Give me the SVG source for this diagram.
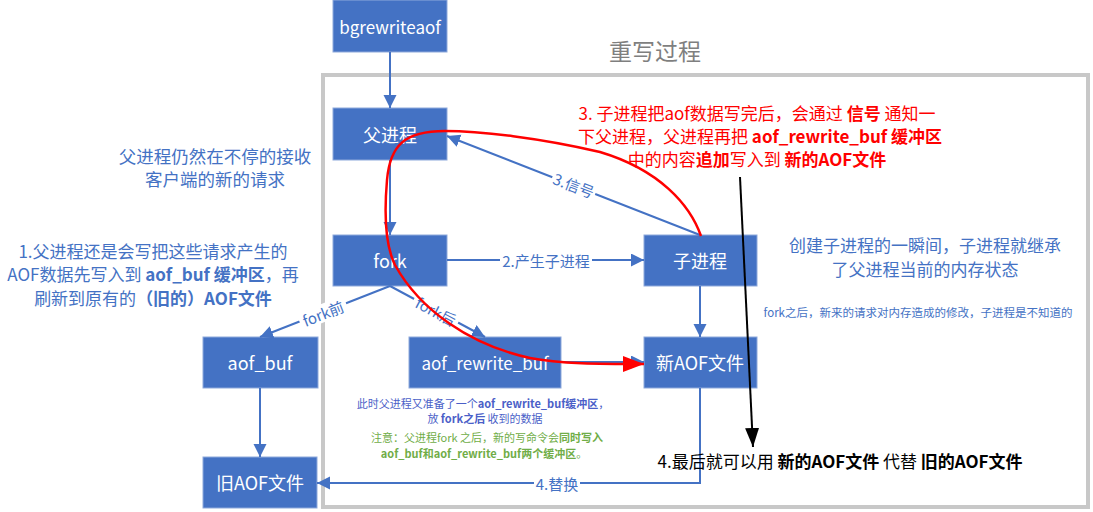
<svg xmlns="http://www.w3.org/2000/svg" width="1093" height="512" viewBox="0 0 1093 512">
<defs>
<style>
text{font-family:"Noto Sans CJK SC","Liberation Sans",sans-serif;dominant-baseline:central;text-anchor:middle}
.box{fill:#4472C4;stroke:#8EA9DB;stroke-width:1}
.bl{fill:#fff;font-size:18px}
.ln{fill:none;stroke:#4472C4;stroke-width:2}
.lab{fill:#4472C4;font-size:15px}
.bg{fill:#fff}
.b{font-weight:bold}
</style>
<marker id="ab" markerUnits="userSpaceOnUse" markerWidth="14" markerHeight="14" refX="13" refY="6.5" orient="auto"><path d="M0,0 L13,6.5 L0,13 z" fill="#4472C4"/></marker>
<marker id="ar" markerUnits="userSpaceOnUse" markerWidth="22" markerHeight="18" refX="21" refY="8" orient="auto"><path d="M0,0 L21,8 L0,16 z" fill="#FF0000"/></marker>
<marker id="ak" markerUnits="userSpaceOnUse" markerWidth="20" markerHeight="14" refX="19" refY="7" orient="auto"><path d="M0,0 L19,7 L0,14 z" fill="#000"/></marker>
</defs>
<rect width="1093" height="512" fill="#fff"/>
<rect x="323" y="75" width="765" height="432" fill="none" stroke="#C8C8C8" stroke-width="4"/>
<text x="655" y="50" font-size="23" fill="#7F7F7F">重写过程</text>

<g id="n-bgrewriteaof"><rect class="box" x="333" y="0" width="114" height="52"/><text class="bl" x="390" y="26" style="font-size:17px">bgrewriteaof</text></g>
<g id="n-parent"><rect class="box" x="333" y="108" width="114" height="52"/><text class="bl" x="390" y="134">父进程</text></g>
<g id="n-fork"><rect class="box" x="333" y="235" width="114" height="51"/><text class="bl" x="390" y="260">fork</text></g>
<g id="n-child"><rect class="box" x="644" y="235" width="113" height="51"/><text class="bl" x="700" y="260">子进程</text></g>
<g id="n-aofbuf"><rect class="box" x="203" y="337" width="115" height="51"/><text class="bl" x="260" y="362">aof_buf</text></g>
<g id="n-rewritebuf"><rect class="box" x="409" y="337" width="152" height="51"/><text class="bl" x="485" y="362" style="font-size:17px">aof_rewrite_buf</text></g>
<g id="n-newaof"><rect class="box" x="644" y="337" width="113" height="51"/><text class="bl" x="700" y="362">新AOF文件</text></g>
<g id="n-oldaof"><rect class="box" x="203" y="457" width="114" height="51"/><text class="bl" x="260" y="482">旧AOF文件</text></g>

<g id="connectors">
<path class="ln" d="M390,52 L390,108" marker-end="url(#ab)"/>
<path class="ln" d="M390,160 L390,235" marker-end="url(#ab)"/>
<path class="ln" d="M447,260 L644,260" marker-end="url(#ab)"/>
<rect class="bg" x="500" y="251" width="92" height="18"/>
<text class="lab" x="546" y="260">2.产生子进程</text>
<path class="ln" d="M700,235 L447,136" marker-end="url(#ab)"/>
<g transform="translate(574,185) rotate(21.2)"><rect class="bg" x="-23" y="-9" width="46" height="18"/><text class="lab" x="0" y="0">3.信号</text></g>
<path class="ln" d="M390,286 L260,337" marker-end="url(#ab)"/>
<g transform="translate(323,313) rotate(-21.4)"><rect class="bg" x="-25" y="-9" width="50" height="18"/><text class="lab" x="0" y="0">fork前</text></g>
<path class="ln" d="M390,286 L485,337" marker-end="url(#ab)"/>
<g transform="translate(436,311) rotate(28)"><rect class="bg" x="-25" y="-9" width="50" height="18"/><text class="lab" x="0" y="0">fork后</text></g>
<path class="ln" d="M700,286 L700,337" marker-end="url(#ab)"/>
<path class="ln" d="M561,362 L644,362" marker-end="url(#ab)"/>
<path class="ln" d="M260,388 L260,457" marker-end="url(#ab)"/>
<path class="ln" d="M700,388 L700,483 L317,483" marker-end="url(#ab)"/>
<rect class="bg" x="534" y="474" width="46" height="18"/>
<text class="lab" x="557" y="483">4.替换</text>
<path d="M701,236 C690,205 660,170 600,152 C540,138 480,131 445,131 C405,131 390,145 387,180 C384,215 385,245 395,265 C420,310 470,345 530,358 C560,364 600,364 644,364" fill="none" stroke="#FF0000" stroke-width="2.5" marker-end="url(#ar)"/>
<path d="M740,177 L753,447" fill="none" stroke="#000" stroke-width="2" marker-end="url(#ak)"/>
</g>

<g id="notes">
<text font-size="17" fill="#FF0000"><tspan x="757" y="112">3. 子进程把aof数据写完后，会通过 <tspan class="b">信号</tspan> 通知一</tspan><tspan x="760" y="135">下父进程，父进程再把 <tspan class="b">aof_rewrite_buf 缓冲区</tspan></tspan><tspan x="757" y="158">中的内容<tspan class="b">追加</tspan>写入到 <tspan class="b">新的AOF文件</tspan></tspan></text>
<text font-size="17.5" fill="#4472C4"><tspan x="215" y="155">父进程仍然在不停的接收</tspan><tspan x="215" y="178">客户端的新的请求</tspan></text>
<text font-size="17" fill="#4472C4"><tspan x="153" y="250">1.父进程还是会写把这些请求产生的</tspan><tspan x="153" y="273">AOF数据先写入到 <tspan class="b">aof_buf 缓冲区</tspan>，再</tspan><tspan x="153" y="297">刷新到原有的<tspan class="b">（旧的）AOF文件</tspan></tspan></text>
<text font-size="17" fill="#4472C4"><tspan x="925" y="244">创建子进程的一瞬间，子进程就继承</tspan><tspan x="925" y="268">了父进程当前的内存状态</tspan></text>
<text font-size="11.5" fill="#4472C4" x="918" y="312">fork之后，新来的请求对内存造成的修改，子进程是不知道的</text>
<text font-size="11" fill="#4B5FC8"><tspan x="483" y="403">此时父进程又准备了一个<tspan class="b">aof_rewrite_buf缓冲区</tspan>，</tspan><tspan x="485" y="418">放 <tspan class="b">fork之后</tspan> 收到的数据</tspan></text>
<text font-size="11" fill="#70AD47"><tspan x="487" y="437">注意：父进程fork 之后，新的写命令会<tspan class="b">同时写入</tspan></tspan><tspan x="484" y="453"><tspan class="b">aof_buf和aof_rewrite_buf两个缓冲区</tspan>。</tspan></text>
<text font-size="17" fill="#000"><tspan x="840" y="460">4.最后就可以用 <tspan class="b">新的AOF文件</tspan> 代替 <tspan class="b">旧的AOF文件</tspan></tspan></text>
</g>
</svg>
